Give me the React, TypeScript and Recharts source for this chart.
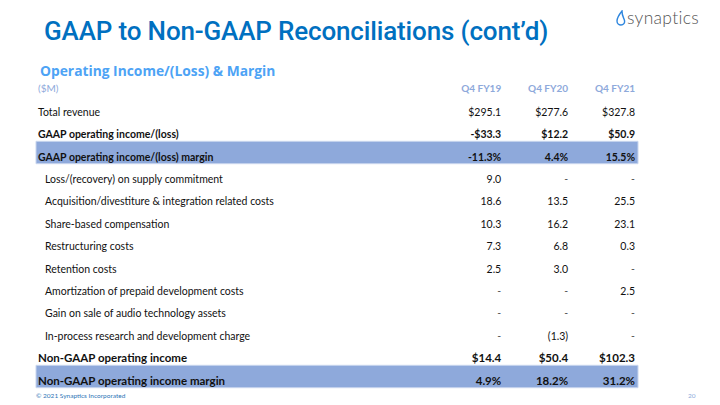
import React from "react";
import {
  ComposedChart,
  XAxis,
  YAxis,
  Scatter,
  ReferenceArea,
} from "recharts";

const unitLabel = "($M)";
const columns = ["Q4 FY19", "Q4 FY20", "Q4 FY21"];

const rowLabels = [
  "Total revenue",
  "GAAP operating income/(loss)",
  "GAAP operating income/(loss) margin",
  "Loss/(recovery) on supply commitment",
  "Acquisition/divestiture & integration related costs",
  "Share-based compensation",
  "Restructuring costs",
  "Retention costs",
  "Amortization of prepaid development costs",
  "Gain on sale of audio technology assets",
  "In-process research and development charge",
  "Non-GAAP operating income",
  "Non-GAAP operating income margin",
];

// usd = $ amount, pct = margin, adj = reconciling item
const rowKinds = ["usd", "usd", "pct", "adj", "adj", "adj", "adj", "adj", "adj", "adj", "adj", "usd", "pct"];

const q4fy19 = [295.1, -33.3, -11.3, 9.0, 18.6, 10.3, 7.3, 2.5, null, null, null, 14.4, 4.9];
const q4fy20 = [277.6, 12.2, 4.4, null, 13.5, 16.2, 6.8, 3.0, null, null, -1.3, 50.4, 18.2];
const q4fy21 = [327.8, 50.9, 15.5, null, 25.5, 23.1, 0.3, null, 2.5, null, null, 102.3, 31.2];

const boldRows = [1, 2, 11, 12];
const highlightRows = [2, 12];
const largeRows = [11, 12];
const indentRows = [3, 4, 5, 6, 7, 8, 9, 10];

const COL_POS = [7, 8, 9];
const TABLE_FONT = "Lato, 'Open Sans', sans-serif";
const BAND = "#8EA9DB";

function fmt(v: number | null, kind: string) {
  if (v === null) return "-";
  const a = Math.abs(v).toFixed(1);
  if (kind === "usd") return v < 0 ? `-$${a}` : `$${a}`;
  if (kind === "pct") return `${v < 0 ? "-" : ""}${a}%`;
  return v < 0 ? `(${a})` : a;
}

const tableData = rowLabels.map((label, i) => ({ label, row: i }));

const labelPoints = rowLabels.map((label, i) => ({ label, row: i, col: 0, text: label }));
const valuePoints = [q4fy19, q4fy20, q4fy21].map((vals, c) =>
  rowLabels.map((label, i) => ({ label, row: i, col: COL_POS[c], text: fmt(vals[i], rowKinds[i]) }))
);

function CellText(props: any) {
  const { cx, cy, payload } = props;
  if (cx == null || cy == null) return null;
  const i = payload.row;
  const isLabel = payload.col === 0;
  const bold = boldRows.includes(i);
  const size = largeRows.includes(i) ? 11.5 : 10.5;
  const x = isLabel ? cx + 2 + (indentRows.includes(i) ? 7 : 0) : cx - 3;
  return (
    <text
      x={x}
      y={cy + 8}
      textAnchor={isLabel ? "start" : "end"}
      fontFamily={TABLE_FONT}
      fontSize={size}
      fontWeight={bold ? 700 : 400}
      fill={payload.text === "-" ? "#555" : "#111"}
    >
      {payload.text}
    </text>
  );
}

function HeaderTick(props: any) {
  const { x, y, payload } = props;
  const v = payload.value;
  if (v === 0) {
    return (
      <text x={x + 2} y={y - 2.5} textAnchor="start" fontFamily={TABLE_FONT} fontSize={10} fill="#8EA9DB">
        {unitLabel}
      </text>
    );
  }
  const idx = COL_POS.indexOf(v);
  return (
    <text x={x - 3} y={y - 2.5} textAnchor="end" fontFamily={TABLE_FONT} fontSize={10} fontWeight={700} fill="#8EA9DB">
      {columns[idx]}
    </text>
  );
}

function Logo() {
  return (
    <div style={{ position: "absolute", left: 616, top: 7, display: "flex", alignItems: "center" }}>
      <svg width={10} height={16} viewBox="0 0 10 16">
        <path d="M6 1 C2 6 1 9 1 11 C1 13.5 3 15 5 15 C7.5 15 9 13 8.5 10.5 C8 8 6 6.5 6 1 Z" fill="none" stroke="#2E86DE" strokeWidth={1.4} />
      </svg>
      <span style={{ fontFamily: "Lato, sans-serif", fontSize: 17.5, color: "#555", fontWeight: 300, marginLeft: 1, letterSpacing: 0.3 }}>
        synaptics
      </span>
    </div>
  );
}

export default function App() {
  return (
    <div style={{ position: "absolute", left: 0, top: 0, width: 720, height: 405, background: "#fff", overflow: "hidden" }}>
      <div
        style={{
          position: "absolute",
          left: 44,
          top: 16,
          fontFamily: "Roboto, sans-serif",
          fontWeight: 500,
          fontSize: 26,
          letterSpacing: -0.15,
          color: "#0070C0",
          whiteSpace: "nowrap",
        }}
      >
        GAAP to Non-GAAP Reconciliations (cont’d)
      </div>
      <Logo />
      <div
        style={{
          position: "absolute",
          left: 40,
          top: 61,
          fontFamily: "'Open Sans', sans-serif",
          fontWeight: 700,
          fontSize: 13.8,
          color: "#4DA3F5",
          whiteSpace: "nowrap",
        }}
      >
        Operating Income/(Loss) &amp; Margin
      </div>
      <div style={{ position: "absolute", left: 0, top: 0 }}>
        <ComposedChart
          width={720}
          height={405}
          layout="vertical"
          data={tableData}
          margin={{ top: 76.5, right: 82, bottom: 17.3, left: 36 }}
        >
          <XAxis
            type="number"
            dataKey="col"
            orientation="top"
            domain={[0, 9]}
            ticks={[0, ...COL_POS]}
            height={20}
            axisLine={false}
            tickLine={false}
            tickSize={0}
            tick={<HeaderTick />}
            interval={0}
          />
          <YAxis type="category" dataKey="label" hide scale="band" allowDuplicatedCategory={false} />
          {highlightRows.map((i) => (
            <ReferenceArea
              key={i}
              y1={rowLabels[i]}
              y2={rowLabels[i]}
              fill={BAND}
              fillOpacity={1}
              stroke="#C9D6EE"
              strokeWidth={1}
              ifOverflow="visible"
            />
          ))}
          <Scatter data={labelPoints} shape={<CellText />} isAnimationActive={false} />
          {valuePoints.map((pts, c) => (
            <Scatter key={c} data={pts} shape={<CellText />} isAnimationActive={false} />
          ))}
        </ComposedChart>
      </div>
      <div
        style={{
          position: "absolute",
          left: 36,
          top: 392,
          fontFamily: "Lato, sans-serif",
          fontSize: 6.5,
          color: "#2E75B6",
          whiteSpace: "nowrap",
        }}
      >
        © 2021 Synaptics Incorporated
      </div>
      <div
        style={{
          position: "absolute",
          left: 688,
          top: 392,
          fontFamily: "Lato, sans-serif",
          fontSize: 6.5,
          color: "#8EA9DB",
        }}
      >
        20
      </div>
    </div>
  );
}
